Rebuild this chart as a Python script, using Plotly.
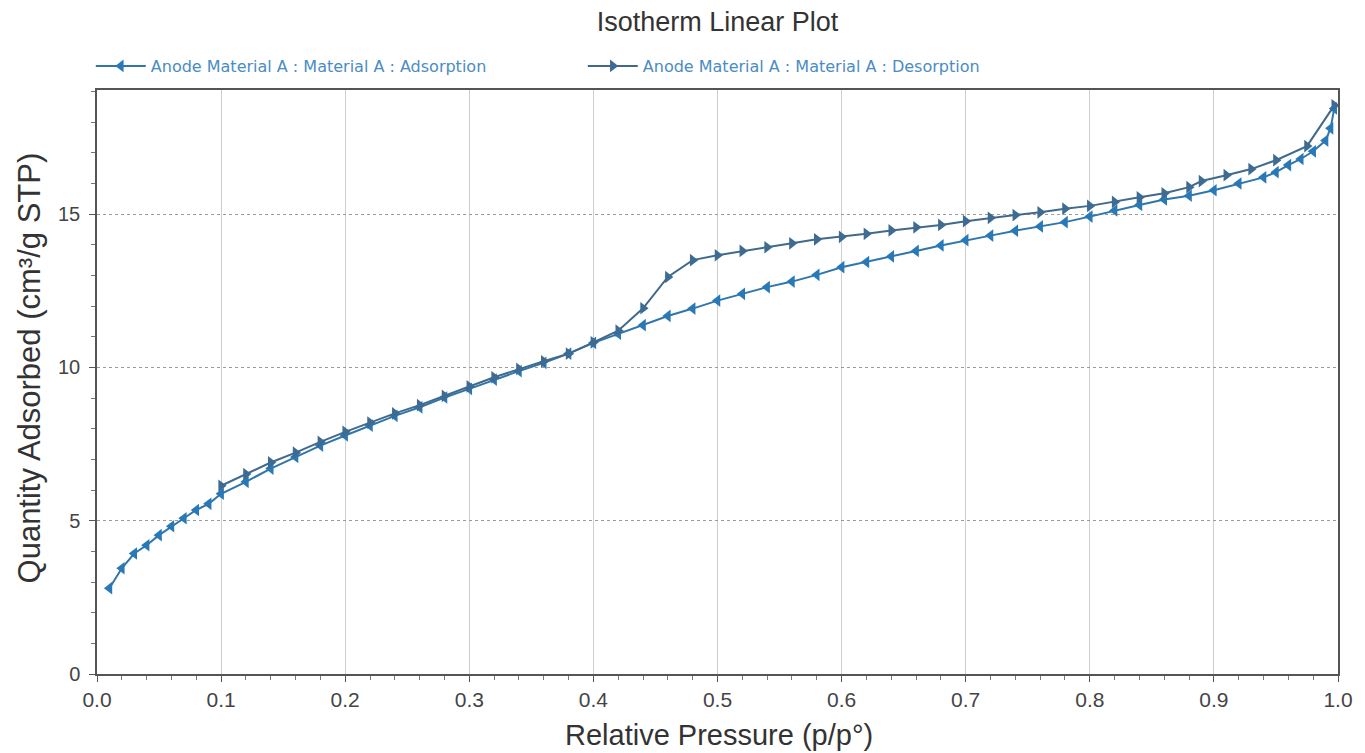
import plotly.graph_objects as go

ads_x = [0.01, 0.02, 0.03, 0.04, 0.05, 0.06, 0.07, 0.08, 0.09, 0.10,
         0.12, 0.14, 0.16, 0.18, 0.20, 0.22, 0.24, 0.26, 0.28, 0.30,
         0.32, 0.34, 0.36, 0.38, 0.40, 0.42, 0.44, 0.46, 0.48, 0.50,
         0.52, 0.54, 0.56, 0.58, 0.60, 0.62, 0.64, 0.66, 0.68, 0.70,
         0.72, 0.74, 0.76, 0.78, 0.80, 0.82, 0.84, 0.86, 0.88, 0.90,
         0.92, 0.94, 0.95, 0.96, 0.97, 0.98, 0.99, 0.994, 0.997]
ads_y = [2.8, 3.45, 3.93, 4.2, 4.53, 4.82, 5.08, 5.35, 5.55, 5.88,
         6.27, 6.7, 7.08, 7.45, 7.78, 8.1, 8.42, 8.7, 9.02, 9.3,
         9.6, 9.88, 10.15, 10.45, 10.8, 11.1, 11.38, 11.68, 11.92, 12.18,
         12.4, 12.62, 12.8, 13.02, 13.27, 13.44, 13.62, 13.8, 13.98, 14.15,
         14.3, 14.46, 14.6, 14.74, 14.92, 15.12, 15.3, 15.48, 15.6, 15.78,
         16.0, 16.2, 16.37, 16.6, 16.8, 17.05, 17.4, 17.8, 18.45]

des_x = [0.997, 0.975, 0.95, 0.93, 0.91, 0.89, 0.88, 0.86, 0.84, 0.82,
         0.80, 0.78, 0.76, 0.74, 0.72, 0.70, 0.68, 0.66, 0.64, 0.62,
         0.60, 0.58, 0.56, 0.54, 0.52, 0.50, 0.48, 0.46, 0.44, 0.42,
         0.40, 0.38, 0.36, 0.34, 0.32, 0.30, 0.28, 0.26, 0.24, 0.22,
         0.20, 0.18, 0.16, 0.14, 0.12, 0.10]
des_y = [18.55, 17.22, 16.76, 16.47, 16.27, 16.08, 15.88, 15.68, 15.55, 15.4,
         15.27, 15.18, 15.06, 14.97, 14.88, 14.77, 14.65, 14.57, 14.47, 14.36,
         14.26, 14.18, 14.05, 13.92, 13.8, 13.66, 13.5, 12.95, 11.93, 11.2,
         10.82, 10.45, 10.2, 9.95, 9.68, 9.38, 9.07, 8.77, 8.5, 8.2,
         7.9, 7.57, 7.22, 6.9, 6.52, 6.14]

ads_name = "Anode Material A : Material A : Adsorption"
des_name = "Anode Material A : Material A : Desorption"
x_title = "Relative Pressure (p/p°)"
y_title = "Quantity Adsorbed (cm³/g STP)"

FONT = "Liberation Sans, Arial, sans-serif"

fig = go.Figure()
fig.add_trace(go.Scatter(
    x=ads_x, y=ads_y, mode="lines+markers", name=ads_name,
    line=dict(color="#2f76ad", width=2),
    marker=dict(symbol="triangle-left", size=11, color="#2a79b7"),
))
fig.add_trace(go.Scatter(
    x=des_x, y=des_y, mode="lines+markers", name=des_name,
    line=dict(color="#41698c", width=2),
    marker=dict(symbol="triangle-right", size=11, color="#3d6b92"),
))

fig.add_annotation(
    text=y_title, textangle=-90, showarrow=False,
    xref="paper", yref="paper", x=-0.0536, y=0.524,
    xanchor="center", yanchor="middle",
    font=dict(size=31, color="#333333", family=FONT),
)
fig.add_annotation(
    text=x_title, showarrow=False,
    xref="paper", yref="paper", x=0.501, y=-0.1045,
    xanchor="center", yanchor="middle",
    font=dict(size=29, color="#333333", family=FONT),
)

fig.update_layout(
    width=1365, height=753,
    margin=dict(l=97, r=19, t=90, b=79),
    paper_bgcolor="white", plot_bgcolor="white",
    font=dict(family=FONT, color="#444444"),
    title=dict(text="Isotherm Linear Plot", xref="paper", x=0.5, xanchor="center",
               y=0.972, yanchor="middle",
               font=dict(size=27, color="#333333", family=FONT)),
    showlegend=True,
    legend=dict(orientation="h", x=-0.005, xanchor="left", y=1.041, yanchor="middle",
                font=dict(size=16, color="#4a8cc4", family="DejaVu Sans, Verdana, sans-serif"),
                entrywidth=427, entrywidthmode="pixels",
                bgcolor="rgba(0,0,0,0)", itemwidth=50),
    xaxis=dict(
        range=[0, 1.0], dtick=0.1, tickformat=".1f",
        showline=True, linecolor="#555555", linewidth=1.5, mirror=True,
        ticks="outside", ticklen=6, tickcolor="#555555",
        showgrid=True, gridcolor="#cfcfcf", gridwidth=1,
        zeroline=False,
        minor=dict(dtick=0.02, ticks="outside", ticklen=4, tickcolor="#777777", showgrid=False),
        tickfont=dict(size=21, color="#444444", family=FONT),
    ),
    yaxis=dict(
        range=[0, 19.05], dtick=5,
        showline=True, linecolor="#555555", linewidth=1.5, mirror=True,
        ticks="outside", ticklen=6, tickcolor="#555555",
        showgrid=True, gridcolor="#9a9a9a", gridwidth=1, griddash="dot",
        zeroline=False,
        minor=dict(dtick=1, ticks="outside", ticklen=4, tickcolor="#777777", showgrid=False),
        tickfont=dict(size=20, color="#444444", family=FONT),
        ticklabelstandoff=5,
    ),
)

fig.write_html("out.html")
